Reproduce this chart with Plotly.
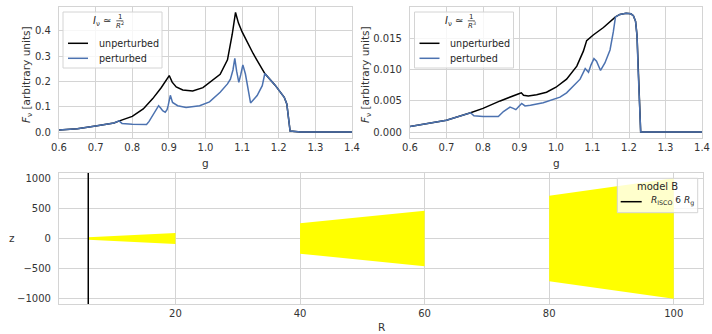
import plotly.graph_objects as go

# ---------------- data ----------------
# top-left panel: I_nu ~ 1/R^2
g_l_unpert = [0.60, 0.65, 0.70, 0.75, 0.765, 0.80, 0.83, 0.856, 0.879, 0.892, 0.901, 0.909, 0.92, 0.938,
              0.965, 0.993, 1.011, 1.04, 1.06, 1.073, 1.082, 1.09, 1.10, 1.11, 1.12, 1.13, 1.14, 1.15,
              1.162, 1.19, 1.215, 1.222, 1.231, 1.26, 1.30, 1.35, 1.40]
F_l_unpert = [0.008, 0.013, 0.024, 0.036, 0.044, 0.062, 0.091, 0.132, 0.175, 0.201, 0.223, 0.197, 0.178, 0.166,
              0.162, 0.175, 0.195, 0.228, 0.285, 0.386, 0.472, 0.430, 0.395, 0.365, 0.338, 0.310, 0.285, 0.260,
              0.231, 0.185, 0.137, 0.111, 0.004, 0.0, 0.0, 0.0, 0.0]
g_l_pert = [0.60, 0.65, 0.70, 0.75, 0.764, 0.772, 0.80, 0.839, 0.846, 0.856, 0.865, 0.872, 0.878, 0.883,
            0.89, 0.895, 0.898, 0.904, 0.91, 0.924, 0.947, 0.984, 1.011, 1.04, 1.06, 1.068, 1.075, 1.08,
            1.085, 1.091, 1.096, 1.102, 1.109, 1.116, 1.123, 1.141, 1.155, 1.162, 1.19, 1.215, 1.222,
            1.231, 1.26, 1.30, 1.35, 1.40]
F_l_pert = [0.008, 0.013, 0.024, 0.036, 0.044, 0.034, 0.031, 0.030, 0.042, 0.065, 0.085, 0.104, 0.094, 0.084,
            0.078, 0.088, 0.104, 0.145, 0.117, 0.104, 0.097, 0.104, 0.119, 0.157, 0.190, 0.209, 0.245, 0.291,
            0.240, 0.196, 0.225, 0.265, 0.229, 0.170, 0.115, 0.144, 0.183, 0.231, 0.185, 0.137, 0.111,
            0.004, 0.0, 0.0, 0.0, 0.0]

# top-right panel: I_nu ~ 1/R^3
g_r_unpert = [0.60, 0.65, 0.70, 0.766, 0.80, 0.847, 0.883, 0.90, 0.905, 0.911, 0.924, 0.947, 0.974, 1.00,
              1.029, 1.057, 1.075, 1.084, 1.102, 1.13, 1.163, 1.175, 1.192, 1.205, 1.212, 1.218, 1.222,
              1.225, 1.228, 1.232, 1.30, 1.40]
F_r_unpert = [0.0009, 0.0014, 0.0019, 0.0031, 0.0038, 0.0050, 0.0059, 0.0062, 0.0063, 0.0059, 0.0058, 0.0060,
              0.0064, 0.0072, 0.0085, 0.0106, 0.0130, 0.0147, 0.0156, 0.0168, 0.0185, 0.0189, 0.0191, 0.0190,
              0.0187, 0.0178, 0.0155, 0.0100, 0.0040, 0.0, 0.0, 0.0]
g_r_pert = [0.60, 0.65, 0.70, 0.766, 0.775, 0.80, 0.842, 0.856, 0.874, 0.883, 0.89, 0.898, 0.906, 0.915,
            0.93, 0.965, 1.011, 1.029, 1.066, 1.08, 1.089, 1.096, 1.104, 1.111, 1.122, 1.134, 1.148, 1.157,
            1.163, 1.175, 1.192, 1.205, 1.212, 1.218, 1.222, 1.225, 1.228, 1.232, 1.30, 1.40]
F_r_pert = [0.0009, 0.0014, 0.0019, 0.0031, 0.0026, 0.0025, 0.0025, 0.0033, 0.0040, 0.0038, 0.0036, 0.0041,
            0.0046, 0.0042, 0.0043, 0.0047, 0.0056, 0.0063, 0.0085, 0.0102, 0.0096, 0.0108, 0.0118, 0.0114,
            0.0099, 0.0111, 0.0132, 0.0161, 0.0185, 0.0189, 0.0191, 0.0190, 0.0187, 0.0178, 0.0155, 0.0100,
            0.0040, 0.0, 0.0, 0.0]

# bottom panel: disc geometry (model B)
r_isco = 6
wedge_r_in = [6, 40, 80]
wedge_r_out = [20, 60, 100]
wedge_h_in = [22, 255, 720]
wedge_h_out = [92, 465, 1010]
z_ticks = [-1000, -500, 0, 500, 1000]
r_ticks = [20, 40, 60, 80, 100]
g_ticks = [0.6, 0.7, 0.8, 0.9, 1.0, 1.1, 1.2, 1.3, 1.4]
F_l_ticks = [0.0, 0.1, 0.2, 0.3, 0.4]
F_r_ticks = [0.0, 0.005, 0.010, 0.015]

series_labels = ["unperturbed", "perturbed"]
model_label = "model B"
isco_label = "<i>R</i><sub>ISCO</sub> 6 <i>R</i><sub>g</sub>"

# ---------------- styling ----------------
W, H = 712, 334
BLUE = "#4c72b0"
GRID = "#d4d4d4"
TXT = "#333333"
LEGTXT = "#262626"
FONT = "DejaVu Sans"


def px_x(p):
    return p / W


def px_y(p):
    return 1 - p / H


fig = go.Figure()

fig.add_trace(go.Scatter(x=g_l_unpert, y=F_l_unpert, mode="lines", name=series_labels[0],
                         line=dict(color="black", width=1.5), xaxis="x", yaxis="y", showlegend=False))
fig.add_trace(go.Scatter(x=g_l_pert, y=F_l_pert, mode="lines", name=series_labels[1],
                         line=dict(color=BLUE, width=1.5), xaxis="x", yaxis="y", showlegend=False))
fig.add_trace(go.Scatter(x=g_r_unpert, y=F_r_unpert, mode="lines", name=series_labels[0],
                         line=dict(color="black", width=1.5), xaxis="x2", yaxis="y2", showlegend=False))
fig.add_trace(go.Scatter(x=g_r_pert, y=F_r_pert, mode="lines", name=series_labels[1],
                         line=dict(color=BLUE, width=1.5), xaxis="x2", yaxis="y2", showlegend=False))

z_range = [-1100, 1100]
for r0, r1, h0, h1 in zip(wedge_r_in, wedge_r_out, wedge_h_in, wedge_h_out):
    fig.add_trace(go.Scatter(x=[r0, r1, r1, r0, r0], y=[h0, h1, -h1, -h0, h0], mode="lines",
                             fill="toself", fillcolor="#ffff00", line=dict(width=0, color="#ffff00"),
                             showlegend=False, hoverinfo="skip", xaxis="x3", yaxis="y3"))

fig.add_trace(go.Scatter(x=[r_isco, r_isco], y=z_range, mode="lines", name=isco_label,
                         line=dict(color="black", width=1.5), xaxis="x3", yaxis="y3", showlegend=False))

axis_common = dict(showgrid=True, gridcolor=GRID, gridwidth=1, showline=True, linecolor=GRID,
                   linewidth=1.2, mirror=True, zeroline=False, ticks="", automargin=False,
                   tickfont=dict(family=FONT, size=10, color=TXT))

top_dom = [px_y(138), px_y(7)]
bot_dom = [px_y(304), px_y(173)]

fig.update_layout(
    width=W, height=H, margin=dict(l=0, r=0, t=0, b=0, autoexpand=False),
    paper_bgcolor="white", plot_bgcolor="white", showlegend=False,
    font=dict(family=FONT, size=10, color=TXT),
    xaxis=dict(domain=[px_x(59), px_x(352)], range=[0.6, 1.4], anchor="y", tickvals=g_ticks,
               tickformat=".1f", **axis_common),
    yaxis=dict(domain=top_dom, range=[-0.0235, 0.4935], anchor="x", tickvals=F_l_ticks, tickformat=".1f",
               ticklabelstandoff=5, **axis_common),
    xaxis2=dict(domain=[px_x(410), px_x(702)], range=[0.6, 1.4], anchor="y2", tickvals=g_ticks,
                tickformat=".1f", **axis_common),
    yaxis2=dict(domain=top_dom, range=[-0.00096, 0.0201], anchor="x2", tickvals=F_r_ticks,
                tickformat=".3f", ticklabelstandoff=5, **axis_common),
    xaxis3=dict(domain=[px_x(59), px_x(703)], range=[1.3, 104.7], anchor="y3", tickvals=r_ticks,
                **axis_common),
    yaxis3=dict(domain=bot_dom, range=z_range, anchor="x3", tickvals=z_ticks,
                ticklabelstandoff=5, **axis_common),
)

shapes = []
annotations = []


def ann(text, x, y, size, xanchor="center", color=LEGTXT, angle=0):
    annotations.append(dict(text=text, x=px_x(x), y=px_y(y), xref="paper", yref="paper",
                            showarrow=False, xanchor=xanchor, yanchor="middle", textangle=angle,
                            font=dict(family=FONT, size=size, color=color)))


def box(x0, y0, x1, y1):
    shapes.append(dict(type="rect", xref="paper", yref="paper", x0=px_x(x0), x1=px_x(x1),
                       y0=px_y(y1), y1=px_y(y0), fillcolor="rgba(255,255,255,0.8)",
                       line=dict(color=GRID, width=1), layer="above"))


def sample(x0, x1, y, color):
    shapes.append(dict(type="line", xref="paper", yref="paper", x0=px_x(x0), x1=px_x(x1),
                       y0=px_y(y), y1=px_y(y), line=dict(color=color, width=1.5), layer="above"))


# top legends (manual, matplotlib-like layout)
for dx, power in [(0, "2"), (351.5, "3")]:
    box(63 + dx, 12, 162 + dx, 68)
    ann("<i>I</i><sub>ν</sub> ≃", 113.5 + dx, 21.5, 10, xanchor="right")
    ann("1", 119.8 + dx, 17.2, 7)
    shapes.append(dict(type="line", xref="paper", yref="paper", x0=px_x(116.3 + dx), x1=px_x(123.3 + dx),
                       y0=px_y(20.8), y1=px_y(20.8), line=dict(color=LEGTXT, width=0.7), layer="above"))
    ann("<i>R</i><sup>" + power + "</sup>", 120.2 + dx, 24.8, 7)
    sample(68 + dx, 88 + dx, 43.3, "black")
    ann(series_labels[0], 96.5 + dx, 43.3, 9.6, xanchor="left")
    sample(68 + dx, 88 + dx, 58.3, BLUE)
    ann(series_labels[1], 96.5 + dx, 58.3, 9.6, xanchor="left")

# bottom legend
box(617.3, 178.3, 697.7, 212.7)
ann(model_label, 657.7, 186.7, 10)
sample(620.7, 641.7, 201.7, "black")
ann(isco_label, 648.5, 201.2, 9, xanchor="left")

# axis titles
ann("g", 205.5, 163, 10.5, color=TXT)
ann("g", 556, 163, 10.5, color=TXT)
ann("R", 381, 327, 10.5, color=TXT)
ann("<i>F</i><sub>ν</sub> [arbitrary units]", 27, 75, 10.5, color=TXT, angle=-90)
ann("<i>F</i><sub>ν</sub> [arbitrary units]", 366, 75, 10.5, color=TXT, angle=-90)
ann("z", 12, 238, 10.5, color=TXT)

fig.update_layout(shapes=shapes, annotations=annotations)

fig.write_html("out.html", config={"displayModeBar": False},
               post_script="document.body.style.margin='0';document.body.style.overflow='hidden';")
